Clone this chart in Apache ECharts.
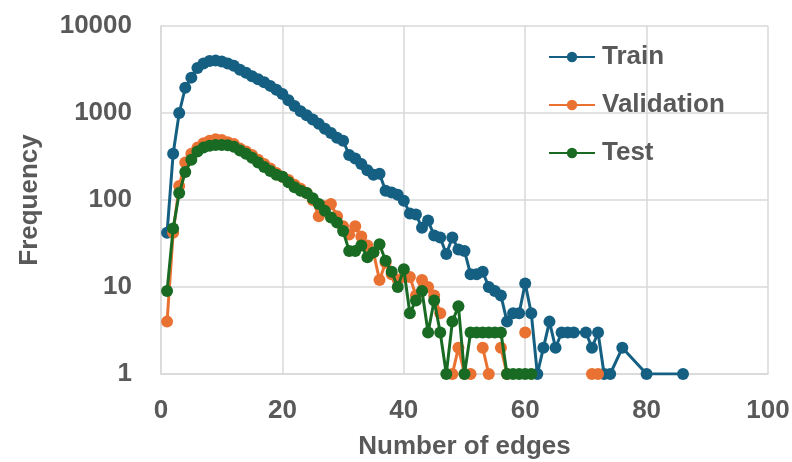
<!DOCTYPE html>
<html>
<head>
<meta charset="utf-8">
<script src="https://cdn.jsdelivr.net/npm/echarts@6/dist/echarts.min.js"></script>
<style>html,body{margin:0;padding:0;background:#fff;}#c{width:792px;height:462px;}</style>
</head>
<body>
<div id="c"></div>
<script>
// Number of edges (x) and frequencies per split (null = no point / line break)
const trainX = [1,2,3,4,5,6,7,8,9,10,11,12,13,14,15,16,17,18,19,20,21,22,23,24,25,26,27,28,29,30,31,32,33,34,35,36,37,38,39,40,41,42,43,44,45,46,47,48,49,50,51,52,53,54,55,56,57,58,59,60,61,62,63,64,65,66,67,68,70,71,72,73,74,76,80,86];
const trainY = [42,340,1000,1950,2550,3300,3700,3950,4000,3900,3700,3500,3150,2900,2650,2450,2250,2050,1850,1650,1400,1200,1050,940,840,750,660,590,520,480,330,300,260,220,195,200,128,122,115,98,70,68,48,58,39,37,24,37,27,26,14,14,15,10,9,8,4,5,5,11,5,1,2,4,2,3,3,3,3,2,3,1,1,2,1,1];

const valX = [1,2,3,4,5,6,7,8,9,10,11,12,13,14,15,16,17,18,19,20,21,22,23,24,25,26,27,28,29,30,31,32,33,34,35,36,37,38,39,40,41,42,43,44,45,46,47,48,49,50,51,52,53,54,55,56,57,58,59,60,61,70,71,72];
const valY = [4,42,145,270,340,400,450,480,500,490,460,440,390,360,330,290,260,230,205,185,170,150,135,120,100,65,85,90,65,50,40,50,38,30,25,12,19,14,12,13,13,8,12,10,8,5,null,1,2,1,1,null,2,1,null,2,1,null,null,3,null,null,1,1];

const testX = [1,2,3,4,5,6,7,8,9,10,11,12,13,14,15,16,17,18,19,20,21,22,23,24,25,26,27,28,29,30,31,32,33,34,35,36,37,38,39,40,41,42,43,44,45,46,47,48,49,50,51,52,53,54,55,56,57,58,59,60,61];
const testY = [9,47,120,210,290,360,400,420,430,430,425,410,370,340,305,270,240,215,195,185,160,140,128,120,105,90,75,63,55,44,26,26,30,22,25,31,20,15,10,16,5,7,9,3,7,3,1,4,6,1,3,3,3,3,3,3,1,1,1,1,1];

const seriesNames = ['Train','Validation','Test'];
const seriesColors = ['#156082','#E97132','#196B24'];
const xTicks = [0,20,40,60,80,100];
const yTicks = [1,10,100,1000,10000];

function pairs(xs, ys){ return xs.map((x,i)=>[x, ys[i]]); }
const dataSets = [pairs(trainX,trainY), pairs(valX,valY), pairs(testX,testY)];

const FONT = 'Liberation Sans';
const TXT = '#595959';
const GRID = '#d9d9d9';

const chart = echarts.init(document.getElementById('c'), null, {renderer:'canvas'});
chart.setOption({
  animation:false,
  backgroundColor:'#ffffff',
  grid:{left:161, right:24, top:26, bottom:88, containLabel:false, outerBoundsMode:'none'},
  legend:{
    orient:'vertical', left:543, top:39, itemGap:22, itemWidth:46, itemHeight:13,
    textStyle:{fontFamily:FONT, fontWeight:'bold', fontSize:26, color:TXT, padding:[0,0,0,2]},
    data: seriesNames
  },
  xAxis:{
    type:'value', min:xTicks[0], max:xTicks[xTicks.length-1], interval:20,
    name:'Number of edges', nameLocation:'middle', nameGap:60,
    nameTextStyle:{fontFamily:FONT, fontWeight:'bold', fontSize:26, color:TXT},
    axisLine:{show:true, lineStyle:{color:GRID, width:1.5}},
    axisTick:{show:false},
    axisLabel:{fontFamily:FONT, fontWeight:'bold', fontSize:26, color:TXT, margin:24},
    splitLine:{show:true, lineStyle:{color:GRID, width:1.5}}
  },
  yAxis:{
    type:'log', logBase:10, min:yTicks[0], max:yTicks[yTicks.length-1],
    name:'Frequency', nameLocation:'middle', nameGap:118,
    nameTextStyle:{fontFamily:FONT, fontWeight:'bold', fontSize:26, color:TXT},
    axisLine:{show:true, lineStyle:{color:GRID, width:1.5}},
    axisTick:{show:false},
    axisLabel:{fontFamily:FONT, fontWeight:'bold', fontSize:26, color:TXT, margin:29,
      formatter: v => String(Math.round(v))},
    splitLine:{show:true, lineStyle:{color:GRID, width:1.5}}
  },
  series: seriesNames.map((n,i)=>({
    name:n, type:'line', data:dataSets[i], connectNulls:false,
    symbol:'circle', symbolSize:12, showAllSymbol:true,
    lineStyle:{color:seriesColors[i], width:3},
    itemStyle:{color:seriesColors[i]},
    z: 2+i
  }))
});
</script>
</body>
</html>
